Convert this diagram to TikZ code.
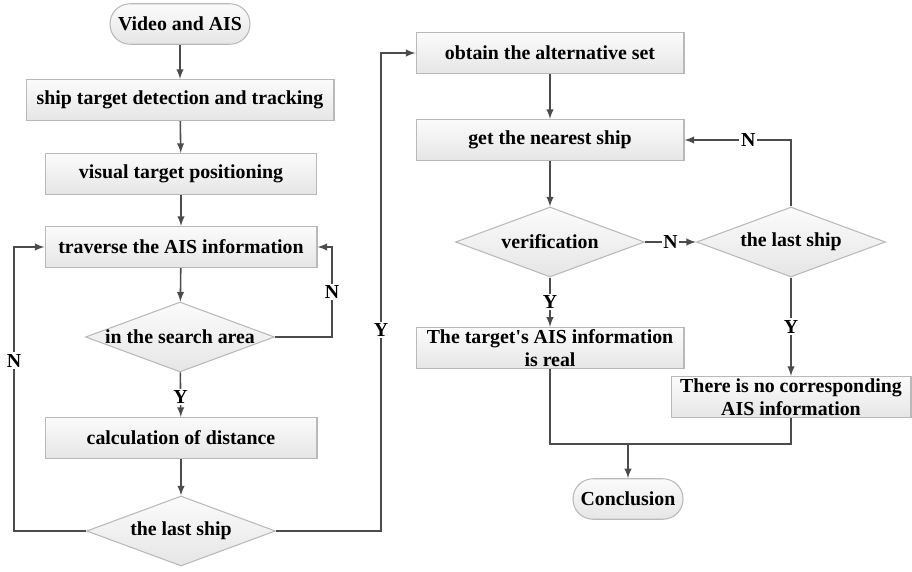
\documentclass[tikz,border=0pt]{standalone}
\usepackage{fontspec}
\defaultfontfeatures{}
\setmainfont{Liberation Serif}[Ligatures=ResetAll]
\usepackage{tikz}
\usetikzlibrary{arrows,shapes.geometric}

\begin{document}
\begin{tikzpicture}[
			x=0.02cm, y=-0.02cm,
			box style/.style={
				draw=gray!55,
				line width=0.6pt,
				top color=gray!3,
				bottom color=gray!20,
				align=center,
				inner sep=1pt,
				minimum height=0.82cm,
				font=\fontsize{11.3}{13.4}\selectfont\bfseries
			},
			term style/.style={
				box style,
				rounded corners=0.4cm,
				minimum height=0.81cm
			},
			choice style/.style={
				box style,
				diamond,
				aspect=2.7,
				inner sep=0pt,
				minimum width=3.78cm,
				minimum height=1.4cm
			},
			tag/.style={
				fill=white,
				inner sep=1pt,
				font=\fontsize{11.3}{13.4}\selectfont\bfseries
			},
			link/.style={
				draw=black!70,
				line width=0.9pt
			},
			>=latex
			]
			
			\useasboundingbox (0,0) rectangle (912,571);
			
			% left column
			\node[term style, minimum width=2.8cm] (start) at (180,24) {Video and AIS};
			\node[box style, minimum width=6.16cm] (detect) at (180,100) 
			{ship target detection and tracking};
			\node[box style, minimum width=5.42cm] (locate) at (181,174) 
			{visual target positioning};
			\node[box style, minimum width=5.44cm] (traverse) at (181,247) 
			{traverse the AIS information};
			\node[choice style] (area) at (180,337) {in the search area};
			\node[box style, minimum width=5.44cm] (dist) at (181,438) 
			{calculation of distance};
			\node[choice style] (last1) at (181,531) {the last ship};
			
			% right column
			\node[box style, minimum width=5.36cm] (alter) at (550,53) 
			{obtain the alternative set};
			\node[box style, minimum width=5.36cm] (nearest) at (550,140) 
			{get the nearest ship};
			\node[choice style] (verify) at (550,242) {verification};
			\node[choice style] (last2) at (791,242) {the last ship};
			\node[box style, minimum width=5.36cm] (real) at (550,348) 
			{The target\textquotesingle s AIS information\\is real};
			\node[box style, minimum width=4.8cm] (none) at (791,397) 
			{There is no corresponding\\AIS information};
			\node[term style, minimum width=2.2cm] (concl) at (628,499) {Conclusion};
			
			\draw[link, ->] (start) -- (detect);
			\draw[link, ->] (detect) -- (locate);
			\draw[link, ->] (locate) -- (traverse);
			\draw[link, ->] (traverse) -- (area);
			\draw[link, ->] (area) -- node[tag, pos=0.55] {Y} (dist);
			\draw[link, ->] (dist) -- (last1);
			\draw[link, ->] (area.east) -- ++(57,0) |- node[tag, pos=0.25] {N} (traverse.east);
			\draw[link, ->] (last1.west) -- ++(-72,0) |- node[tag, pos=0.3] {N} (traverse.west);
			\draw[link, ->] (last1.east) -- ++(105,0) |- node[tag, pos=0.21] {Y} (alter.west);
			
			\draw[link, ->] (alter) -- (nearest);
			\draw[link, ->] (nearest) -- (verify);
			\draw[link, ->] (verify) -- node[tag] {N} (last2);
			\draw[link, ->] (last2.north) |- node[tag, pos=0.7] {N} (nearest.east);
			\draw[link, ->] (verify) -- node[tag, pos=0.5] {Y} (real);
			\draw[link, ->] (last2) -- node[tag, pos=0.5] {Y} (none);
			
			\coordinate (merge) at (628,444);
			\draw[link] (real.south) |- (merge) -| (none.south);
			\draw[link, ->] (merge) -- (concl);
			
		\end{tikzpicture}
\end{document}
